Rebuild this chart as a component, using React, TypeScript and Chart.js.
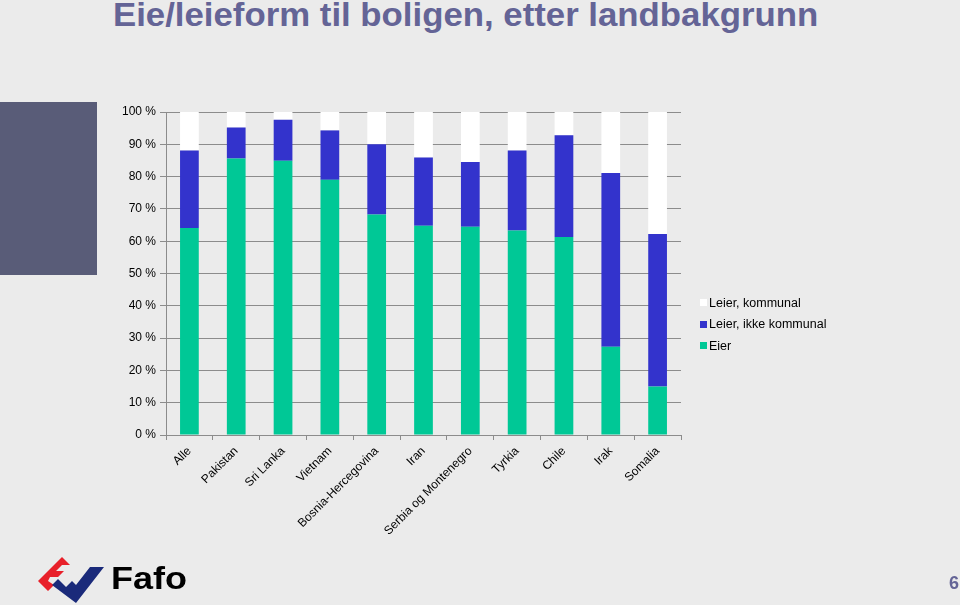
import React, { useEffect, useRef } from "react";
import { Chart, registerables } from "chart.js";

Chart.register(...registerables);

const categories = [
  "Alle",
  "Pakistan",
  "Sri Lanka",
  "Vietnam",
  "Bosnia-Hercegovina",
  "Iran",
  "Serbia og Montenegro",
  "Tyrkia",
  "Chile",
  "Irak",
  "Somalia",
];
const eier = [64.1, 85.6, 84.9, 79.0, 68.3, 64.8, 64.5, 63.3, 61.3, 27.3, 15.0];
const leierIkkeKommunal = [24.0, 9.6, 12.7, 15.3, 21.7, 21.1, 20.0, 24.8, 31.5, 53.8, 47.2];
const leierKommunal = [11.9, 4.8, 2.4, 5.7, 10.0, 14.1, 15.5, 11.9, 7.2, 18.9, 37.8];
const seriesNames = ["Eier", "Leier, ikke kommunal", "Leier, kommunal"];
const seriesColors = ["#00c896", "#3333cc", "#ffffff"];
const yTicks = [0, 10, 20, 30, 40, 50, 60, 70, 80, 90, 100];

const BG = "#ebebeb";
const FONT = "'Liberation Sans', Arial, sans-serif";

export default function App() {
  const ref = useRef<HTMLCanvasElement>(null);

  useEffect(() => {
    document.body.style.margin = "0";
    const ctx = ref.current!;
    const chart = new Chart(ctx, {
      type: "bar",
      data: {
        labels: categories,
        datasets: [
          { label: seriesNames[0], data: eier, backgroundColor: seriesColors[0] },
          { label: seriesNames[1], data: leierIkkeKommunal, backgroundColor: seriesColors[1] },
          { label: seriesNames[2], data: leierKommunal, backgroundColor: seriesColors[2] },
        ],
      },
      options: {
        animation: false,
        responsive: false,
        maintainAspectRatio: false,
        layout: { padding: { top: 112, right: 279, left: 0, bottom: 0 } },
        plugins: { legend: { display: false }, title: { display: false }, tooltip: { enabled: false } },
        datasets: { bar: { barPercentage: 0.4, categoryPercentage: 1 } },
        scales: {
          x: {
            stacked: true,
            offset: true,
            grid: {
              display: true,
              drawOnChartArea: false,
              drawTicks: true,
              tickLength: 5,
              color: "#8c8c8c",
              offset: true,
            },
            border: { display: true, color: "#8c8c8c" },
            ticks: {
              minRotation: 45,
              maxRotation: 45,
              autoSkip: false,
              color: "#000",
              font: { family: FONT, size: 12 },
              padding: 4,
            },
            afterFit: (s: any) => {
              s.height = 605 - 435;
            },
          },
          y: {
            stacked: true,
            min: 0,
            max: 100,
            afterBuildTicks: (s: any) => {
              s.ticks = yTicks.map((v) => ({ value: v }));
            },
            grid: { color: "#8c8c8c", tickLength: 6, drawTicks: true },
            border: { display: true, color: "#8c8c8c" },
            ticks: {
              color: "#000",
              font: { family: FONT, size: 12 },
              padding: 4,
              callback: (v: any) => `${v} %`,
            },
            afterFit: (s: any) => {
              s.width = 166;
            },
          },
        },
      },
    });
    return () => chart.destroy();
  }, []);

  const legendItems = [
    { name: seriesNames[2], color: seriesColors[2] },
    { name: seriesNames[1], color: seriesColors[1] },
    { name: seriesNames[0], color: seriesColors[0] },
  ];

  return (
    <div
      style={{
        position: "fixed",
        left: 0,
        top: 0,
        width: 960,
        height: 605,
        background: BG,
        overflow: "hidden",
        fontFamily: FONT,
      }}
    >
      <div
        style={{
          position: "absolute",
          left: 0,
          top: 102,
          width: 97,
          height: 173,
          background: "#595c78",
        }}
      />
      <div
        style={{
          position: "absolute",
          left: 113,
          top: -1.5,
          fontFamily: FONT,
          fontWeight: "bold",
          fontSize: 32.5,
          lineHeight: "32.5px",
          color: "#646496",
          whiteSpace: "nowrap",
          transform: "scaleX(1.07)",
          transformOrigin: "0 0",
        }}
      >
        Eie/leieform til boligen, etter landbakgrunn
      </div>
      <canvas ref={ref} width={960} height={605} style={{ position: "absolute", left: 0, top: 0 }} />
      <div style={{ position: "absolute", left: 700, top: 292 }}>
        {legendItems.map((it) => (
          <div
            key={it.name}
            style={{ display: "flex", alignItems: "center", height: 21.5, fontSize: 12.5, color: "#000" }}
          >
            <span
              style={{ display: "inline-block", width: 7, height: 7, background: it.color, marginRight: 2 }}
            />
            {it.name}
          </div>
        ))}
      </div>
      <svg
        style={{ position: "absolute", left: 36, top: 555 }}
        width={72}
        height={50}
        viewBox="0 0 72 50"
      >
        <polygon points="2,26 26,2 34,10 26,10 20,16 28,16 22,22 14,22 12,26 18,30 12,36" fill="#e8202a" />
        <polygon points="16,30 22,24 30,32 36,26 40,30 54,12 68,12 40,48" fill="#1a2a7a" />
      </svg>
      <div
        style={{
          position: "absolute",
          left: 111,
          top: 567,
          fontFamily: FONT,
          fontWeight: "bold",
          fontSize: 30.5,
          lineHeight: "30.5px",
          color: "#000",
          transform: "scaleX(1.18)",
          transformOrigin: "0 0",
          marginTop: -4,
        }}
      >
        Fafo
      </div>
      <div
        style={{
          position: "absolute",
          left: 949,
          top: 573,
          fontWeight: "bold",
          fontSize: 18,
          color: "#646496",
        }}
      >
        6
      </div>
    </div>
  );
}
